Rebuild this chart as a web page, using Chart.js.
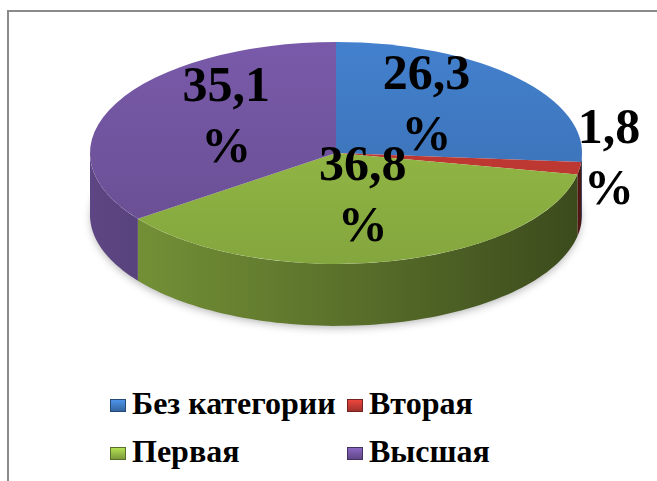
<!DOCTYPE html>
<html>
<head>
<meta charset="utf-8">
<script src="https://cdn.jsdelivr.net/npm/chart.js@4.4.0/dist/chart.umd.min.js"></script>
<style>
    html, body { margin: 0; padding: 0; background: #fff; }
    #wrap { position: relative; width: 657px; height: 481px; overflow: hidden; }
    #frame { position: absolute; left: 7px; top: 10px; right: -5px; bottom: -5px;
             border-top: 2px solid #8a8a8a; border-left: 2px solid #8a8a8a; }
    #box { position: absolute; left: 0; top: 0; width: 657px; height: 380px; }
    .item { position: absolute; font: bold 32px "Liberation Serif", "Times New Roman", Tinos, "DejaVu Serif", serif;
            line-height: 32px; color: #000; white-space: nowrap; }
    .sw { position: absolute; width: 16px; height: 13px; }
</style>
</head>
<body>
<div id="wrap">
    <div id="frame"></div>
    <div id="box"><canvas id="pie"></canvas></div>
    <div id="legend"></div>
</div>
<script>
const categories = ["Без категории", "Вторая", "Первая", "Высшая"];
const values = [26.3, 1.8, 36.8, 35.1];
const colores = ["#3f79c1", "#c23a33", "#93b845", "#7255a0"];

// inclinacion del "3D"
const tilt = 0.451;
const depthRatio = 0.252;
const fuente = '"Liberation Serif", "Times New Roman", Tinos, "DejaVu Serif", serif';

function shade(hex, f) {
    const n = parseInt(hex.slice(1), 16);
    const c = [(n >> 16) & 255, (n >> 8) & 255, n & 255].map(v => Math.max(0, Math.min(255, Math.round(v * f))));
    return "rgb(" + c.join(",") + ")";
}

function geom(chart) {
    const a = chart.chartArea;
    const rx = (a.right - a.left) / 2;
    const ry = rx * tilt;
    return { cx: (a.left + a.right) / 2, cy: a.top + ry, rx: rx, ry: ry, depth: rx * depthRatio };
}

const pie3d = {
    id: "pie3d",
    beforeDatasetsDraw(chart) {
        const ctx = chart.ctx;
        const g = geom(chart);
        const meta = chart.getDatasetMeta(0);
        // sombra
        ctx.save();
        ctx.shadowColor = "rgba(0,0,0,0.35)";
        ctx.shadowBlur = 10;
        ctx.shadowOffsetY = 3;
        ctx.fillStyle = "#fff";
        ctx.beginPath();
        ctx.ellipse(g.cx, g.cy + g.depth, g.rx - 2, g.ry - 2, 0, 0, Math.PI * 2);
        ctx.fill();
        ctx.restore();
        // lados
        meta.data.forEach((arc, i) => {
            const s = Math.max(arc.startAngle, 0);
            const e = Math.min(arc.endAngle, Math.PI);
            if (e <= s) return;
            const grad = ctx.createLinearGradient(g.cx - g.rx, 0, g.cx + g.rx, 0);
            grad.addColorStop(0, shade(colores[i], 0.82));
            grad.addColorStop(0.5, shade(colores[i], 0.62));
            grad.addColorStop(1, shade(colores[i], 0.4));
            ctx.beginPath();
            const n = 80;
            for (let k = 0; k <= n; k++) {
                const t = s + (e - s) * k / n;
                ctx.lineTo(g.cx + g.rx * Math.cos(t), g.cy + g.ry * Math.sin(t));
            }
            for (let k = n; k >= 0; k--) {
                const t = s + (e - s) * k / n;
                ctx.lineTo(g.cx + g.rx * Math.cos(t), g.cy + g.depth + g.ry * Math.sin(t));
            }
            ctx.closePath();
            ctx.fillStyle = grad;
            ctx.fill();
        });
        // aplastar el circulo del grafico en elipse
        const a0 = meta.data[0];
        ctx.save();
        ctx.translate(g.cx, g.cy);
        ctx.scale(g.rx / a0.outerRadius, g.ry / a0.outerRadius);
        ctx.translate(-a0.x, -a0.y);
    },
    afterDatasetsDraw(chart) {
        const ctx = chart.ctx;
        ctx.restore();
        const g = geom(chart);
        const meta = chart.getDatasetMeta(0);
        ctx.save();
        ctx.font = "bold 50px " + fuente;
        ctx.textAlign = "center";
        ctx.fillStyle = "#000";
        meta.data.forEach((arc, i) => {
            const mid = (arc.startAngle + arc.endAngle) / 2;
            const f = values[i] < 5 ? 1.12 : 0.5;
            const x = g.cx + g.rx * f * Math.cos(mid);
            const y = g.cy - 0.12 * g.ry + g.ry * f * Math.sin(mid);
            const b1 = y - 13.5;
            ctx.fillText(values[i].toFixed(1).replace(".", ","), x, b1);
            ctx.fillText("%", x, b1 + 61);
        });
        ctx.restore();
    }
};

function relleno(c) {
    const i = c.dataIndex;
    const a = c.chart.chartArea;
    if (!a) return colores[i];
    const cy = (a.top + a.bottom) / 2;
    const r = Math.min(a.right - a.left, a.bottom - a.top) / 2;
    const gr = c.chart.ctx.createLinearGradient(0, cy - r, 0, cy + r);
    gr.addColorStop(0, shade(colores[i], 1.06));
    gr.addColorStop(1, shade(colores[i], 0.9));
    return gr;
}

new Chart(document.querySelector("#pie").getContext("2d"), {
    type: "pie",
    data: {
        labels: categories,
        datasets: [{ data: values, backgroundColor: relleno, borderWidth: 0, clip: false }],
    },
    options: {
        responsive: true,
        maintainAspectRatio: false,
        animation: false,
        events: [],
        layout: { padding: { left: 90, right: 75, top: 42, bottom: 0 } },
        plugins: {
            legend: { display: false },
            tooltip: { enabled: false },
        },
    },
    plugins: [pie3d],
});

// leyenda en dos columnas
const legend = document.querySelector("#legend");
categories.forEach((cat, i) => {
    const col = i % 2, row = Math.floor(i / 2);
    const left = col === 0 ? 110 : 347;
    const top = row === 0 ? 387 : 435;
    const sw = document.createElement("div");
    sw.className = "sw";
    sw.style.left = left + "px";
    sw.style.top = (top + 12) + "px";
    sw.style.background = "linear-gradient(180deg," + shade(colores[i], 1.25) + "," + shade(colores[i], 0.8) + ")";
    sw.style.boxShadow = "inset 0 0 0 1px " + shade(colores[i], 0.6);
    legend.appendChild(sw);
    const t = document.createElement("div");
    t.className = "item";
    t.style.left = (left + 22) + "px";
    t.style.top = top + "px";
    t.textContent = cat;
    legend.appendChild(t);
});
</script>
</body>
</html>
